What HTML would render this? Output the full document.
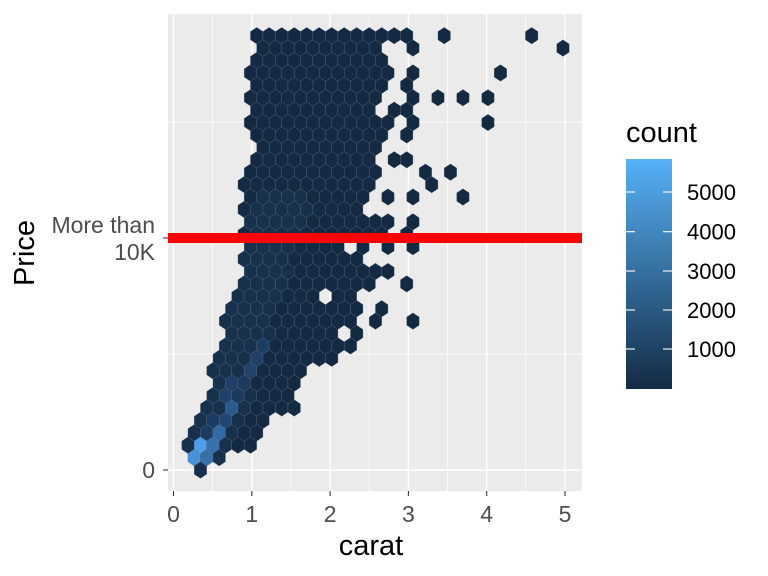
<!DOCTYPE html>
<html><head><meta charset="utf-8"><style>
html,body{margin:0;padding:0;background:#fff;}
svg{display:block;font-family:"Liberation Sans",Arial,sans-serif;}
</style></head><body>
<svg id="s" width="768" height="576" viewBox="0 0 768 576" xmlns="http://www.w3.org/2000/svg">
<defs><linearGradient id="g" x1="0" y1="0" x2="0" y2="1"><stop offset="0" stop-color="#56B1F7"/><stop offset="1" stop-color="#132B43"/></linearGradient></defs>
<rect x="168" y="14" width="414" height="477" fill="#EBEBEB"/>
<g id="grid" stroke="#fff"></g>
<g id="hex" stroke="#5a6a7e" stroke-width="0.45" stroke-opacity="0.7"></g>
<rect x="168" y="233" width="414" height="10" fill="#FF0000"/>
<g id="ticks" stroke="#333" stroke-width="1.1"></g>
<g fill="#4D4D4D" font-size="23">
<text x="155" y="233" text-anchor="end">More than</text>
<text x="155" y="260" text-anchor="end">10K</text>
<text x="155" y="478" text-anchor="end">0</text>
</g>
<g id="xl" fill="#4D4D4D" font-size="23" text-anchor="middle"></g>
<text x="371" y="555" font-size="29" text-anchor="middle" fill="#000">carat</text>
<text transform="translate(34,253) rotate(-90)" font-size="29" text-anchor="middle" fill="#000">Price</text>
<text x="626" y="142" font-size="29" fill="#000">count</text>
<rect x="626" y="159" width="46" height="230" fill="url(#g)"/>
<g id="leg" stroke="#fff" stroke-width="1.1"></g>
<g fill="#000" font-size="22">
<text x="687" y="200">5000</text><text x="687" y="239.5">4000</text><text x="687" y="279">3000</text><text x="687" y="318">2000</text><text x="687" y="357">1000</text>
</g>
</svg>
<script>
var NS="http://www.w3.org/2000/svg";
function el(p,t,a){var e=document.createElementNS(NS,t);for(var k in a)e.setAttribute(k,a[k]);document.getElementById(p).appendChild(e);return e;}
var x0=173.5,dx=78.3;
for(var i=0;i<6;i++){var x=x0+dx*i;el("grid","line",{x1:x,x2:x,y1:14,y2:491,"stroke-width":1.4});
 if(i<5){var xm=x+dx/2;el("grid","line",{x1:xm,x2:xm,y1:14,y2:491,"stroke-width":0.7});}
 el("ticks","line",{x1:x,x2:x,y1:491,y2:496});
 var t=el("xl","text",{x:x,y:522});t.textContent=i;}
[470,238].forEach(function(y){el("grid","line",{x1:168,x2:582,y1:y,y2:y,"stroke-width":1.4});el("ticks","line",{x1:163,x2:168,y1:y,y2:y});});
[354,122].forEach(function(y){el("grid","line",{x1:168,x2:582,y1:y,y2:y,"stroke-width":0.7});});
[192,231.7,271,310,349].forEach(function(y){el("leg","line",{x1:626,x2:635,y1:y,y2:y});el("leg","line",{x1:663,x2:672,y1:y,y2:y});});
var rows=[
[256.7,406.7,[444.2,531.7]],
[262.95,375.45,[412.95,562.95]],
[256.7,381.7,[]],
[250.45,387.95,[412.95,500.45]],
[256.7,381.7,[406.7]],
[250.45,375.45,[412.95,437.95,462.95,487.95]],
[256.7,369.2,[394.2,406.7]],
[250.45,387.95,[412.95,487.95]],
[256.7,381.7,[406.7]],
[262.95,375.45,[]],
[256.7,369.2,[394.2,406.7]],
[250.45,375.45,[425.45,450.45]],
[244.2,369.2,[431.7]],
[250.45,362.95,[387.95,412.95,462.95]],
[244.2,356.7,[]],
[250.45,387.95,[412.95]],
[244.2,381.7,[406.7]],
[250.45,362.95,[387.95,412.95],[350.45]],
[244.2,356.7,[]],
[250.45,387.95,[]],
[244.2,369.2,[406.7]],
[237.95,350.45,[],[325.45]],
[231.7,356.7,[381.7]],
[225.45,350.45,[375.45,412.95]],
[231.7,356.7,[],[344.2]],
[225.45,350.45,[]],
[219.2,331.7,[]],
[212.95,300.45,[]],
[219.2,294.2,[]],
[212.95,287.95,[]],
[206.7,294.2,[]],
[200.45,262.95,[]],
[194.2,256.7,[]],
[187.95,250.45,[]],
[194.2,219.2,[]],
[200.45,200.45,[]]];
var special={"33_200":"#4C9FEE","34_194":"#4592DA","33_213":"#3A70AB","34_207":"#3870A8","32_219":"#326AA5","32_207":"#1D3C62","31_225":"#214672","31_213":"#1C3D63","30_232":"#2A5A8F","29_225":"#1E406A","28_232":"#203F66","27_250":"#22426B","26_257":"#214068","25_263":"#1D3E63","28_244":"#1D3A5E","29_238":"#1C3A5E"};
var hw=6.25,R=8.3;
function hexAt(x,y,c){var p=[[x,y-R],[x+hw,y-R/2],[x+hw,y+R/2],[x,y+R],[x-hw,y+R/2],[x-hw,y-R/2]].map(function(q){return q[0].toFixed(2)+","+q[1].toFixed(2);}).join(" ");
 el("hex","polygon",{points:p,fill:c});}
rows.forEach(function(r,i){var y=35.7+i*12.41;var holes=r[3]||[];
 for(var x=r[0];x<=r[1]+0.1;x+=12.5){
  if(holes.some(function(h){return Math.abs(h-x)<1;}))continue;
  var key=i+"_"+Math.round(x);var c=special[key];
  if(!c){var d=Math.abs((x-173.5)/78.3-(0.35+(470-y)/232*0.9));
   c=(i>12&&d<0.35)?"#17304C":"#142A42";}
  hexAt(x,y,c);}
 r[2].forEach(function(x){hexAt(x,y,"#132A41");});
});
</script>
</body></html>
